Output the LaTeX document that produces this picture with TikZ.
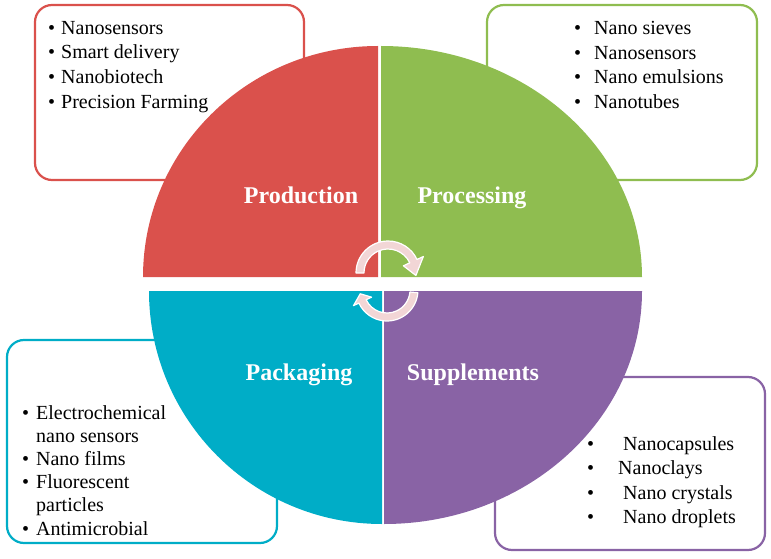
\documentclass[tikz,border=0pt]{standalone}
\usepackage{fontspec}
\setmainfont{Liberation Serif}
\usetikzlibrary{positioning}

\definecolor{prodred}{RGB}{218,81,76}
\definecolor{procgreen}{RGB}{143,189,80}
\definecolor{packteal}{RGB}{0,173,199}
\definecolor{supppurple}{RGB}{137,99,165}
\definecolor{arrowpink}{RGB}{242,214,214}

\newcommand{\bitem}[2]{\makebox[#1][l]{\textbullet}#2}

\tikzset{
  listbox/.style={draw, line width=2.2pt, rounded corners=17pt, fill=white},
  itemlist/.style={anchor=north west, align=left, inner sep=0pt},
  sectorlabel/.style={anchor=base, text=white, font=\fontsize{24}{28}\selectfont\bfseries},
  cyclearrow/.style={fill=arrowpink, draw=white, line width=1.2pt, line join=round}
}

\begin{document}
\begin{tikzpicture}[x=1pt, y=1pt]
    \useasboundingbox (0,0) rectangle (771,558);

    % list boxes (behind the circle)
    \draw[listbox, draw=prodred] (35,378) rectangle (304,553);
    \draw[listbox, draw=procgreen] (487,378) rectangle (757,553);
    \draw[listbox, draw=packteal] (7,15) rectangle (277,218);
    \draw[listbox, draw=supppurple] (495,8) rectangle (765,181);

    % four quarters of the circle
    \fill[prodred] (378,281) -- (143,281) arc[start angle=180, end angle=90, x radius=235, y radius=231] -- cycle;
    \fill[procgreen] (381,281) -- (381,512) arc[start angle=90, end angle=0, x radius=261, y radius=231] -- cycle;
    \fill[packteal] (382,267) -- (149,267) arc[start angle=180, end angle=270, x radius=233, y radius=233] -- cycle;
    \fill[supppurple] (384,267) -- (384,34) arc[start angle=270, end angle=360, x radius=258, y radius=233] -- cycle;

    % sector titles
    \node[sectorlabel] (production) at (301,355) {Production};
    \node[sectorlabel] (processing) at (472,355) {Processing};
    \node[sectorlabel] (packaging) at (299,178) {Packaging};
    \node[sectorlabel] (supplements) at (473,178) {Supplements};

    % item lists
    \node[itemlist, font=\fontsize{20}{24.7}\selectfont] (prodlist) at (48,537) {%
        \bitem{13pt}{Nanosensors}\\ \bitem{13pt}{Smart delivery}\\
        \bitem{13pt}{Nanobiotech}\\ \bitem{13pt}{Precision Farming}};
    \node[itemlist, font=\fontsize{20}{24.7}\selectfont] (proclist) at (574,537) {%
        \bitem{20pt}{Nano sieves}\\ \bitem{20pt}{Nanosensors}\\
        \bitem{20pt}{Nano emulsions}\\ \bitem{20pt}{Nanotubes}};
    \node[itemlist, font=\fontsize{20}{23.2}\selectfont] (packlist) at (22,153) {%
        \bitem{14pt}{Electrochemical}\\ \hspace*{14pt}nano sensors\\
        \bitem{14pt}{Nano films}\\ \bitem{14pt}{Fluorescent}\\
        \hspace*{14pt}particles\\ \bitem{14pt}{Antimicrobial}};
    \node[itemlist, font=\fontsize{20}{24.5}\selectfont] (supplist) at (587,122) {%
        \bitem{36pt}{Nanocapsules}\\ \bitem{31pt}{Nanoclays}\\
        \bitem{36pt}{Nano crystals}\\ \bitem{36pt}{Nano droplets}};

    % cycle arrows in the middle
    \coordinate (topc) at (388,285);
    \coordinate (botc) at (387,268);
    \draw[cyclearrow] ([shift={(180:32)}]topc) arc[start angle=180, end angle=25, radius=32]
        -- ([shift={(25:39)}]topc) -- ([shift={(-5:28)}]topc) -- ([shift={(25:17)}]topc)
        -- ([shift={(25:24)}]topc) arc[start angle=25, end angle=180, radius=24] -- cycle;
    \draw[cyclearrow] ([shift={(-5:31)}]botc) arc[start angle=-5, end angle=-155, radius=31]
        -- ([shift={(-155:37)}]botc) -- ([shift={(-172:27)}]botc) -- ([shift={(-155:17)}]botc)
        -- ([shift={(-155:23)}]botc) arc[start angle=-155, end angle=-5, radius=23] -- cycle;
\end{tikzpicture}
\end{document}
